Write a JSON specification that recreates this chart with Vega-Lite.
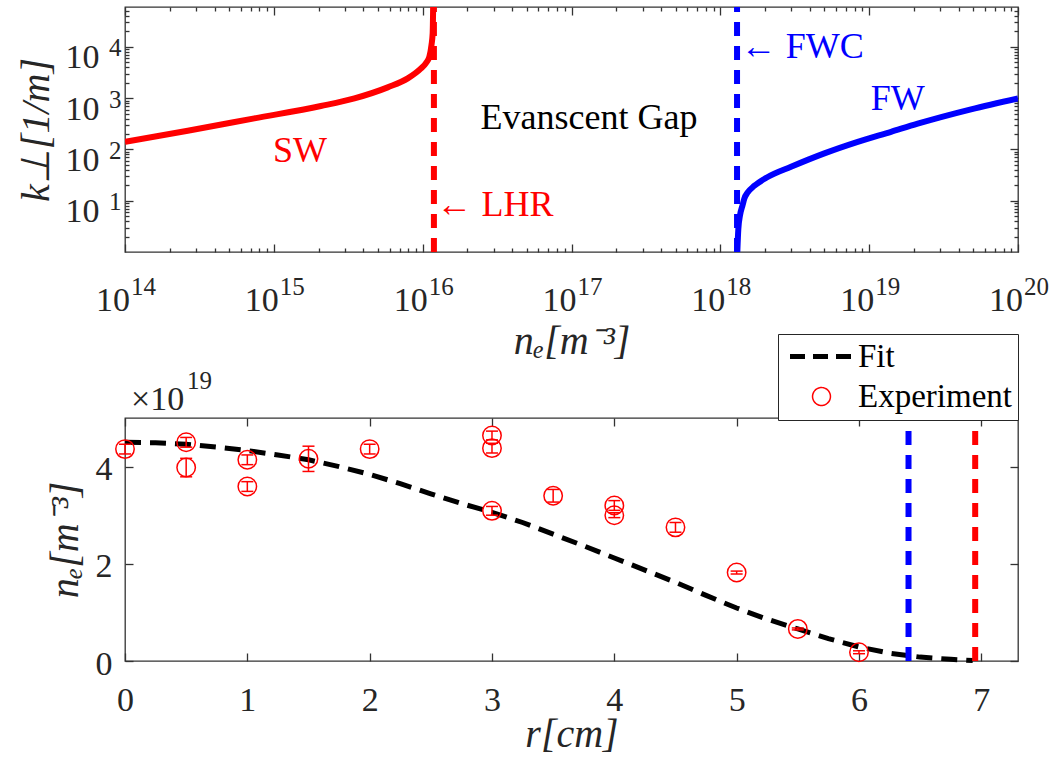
{
  "$schema": "https://vega.github.io/schema/vega-lite/v6.json",
  "background": "#ffffff",
  "padding": {"left": 15, "top": 3, "right": 5, "bottom": 2},
  "config": {
    "font": "Liberation Serif",
    "view": {"stroke": "#333333", "strokeWidth": 1.3},
    "axis": {"domain": false, "grid": false, "labelFlush": false, "labelOverlap": false, "tickColor": "#333333", "tickWidth": 1.3, "labelColor": "#262626", "titleColor": "#262626", "titleFontSize": 40, "titleFontStyle": "italic", "titleFontWeight": "normal", "labelFont": "Liberation Serif", "titleFont": "Liberation Serif"}
  },
  "resolve": {"scale": {"color": "independent"}},
  "datasets": {
    "curves": [
      {"wave": "SW", "n": 1e14, "k": 141},
      {"wave": "SW", "n": 2.64e14, "k": 232},
      {"wave": "SW", "n": 7.4e14, "k": 404},
      {"wave": "SW", "n": 2.07e15, "k": 702},
      {"wave": "SW", "n": 3.48e15, "k": 991},
      {"wave": "SW", "n": 5.82e15, "k": 1625},
      {"wave": "SW", "n": 7.94e15, "k": 2432},
      {"wave": "SW", "n": 9.75e15, "k": 3811},
      {"wave": "SW", "n": 1.052e16, "k": 4830},
      {"wave": "SW", "n": 1.109e16, "k": 6412},
      {"wave": "SW", "n": 1.146e16, "k": 10800},
      {"wave": "SW", "n": 1.167e16, "k": 18300},
      {"wave": "SW", "n": 1.178e16, "k": 80000},
      {"wave": "FW", "n": 1.3e18, "k": 1},
      {"wave": "FW", "n": 1.321e18, "k": 2.8},
      {"wave": "FW", "n": 1.356e18, "k": 5.2},
      {"wave": "FW", "n": 1.413e18, "k": 8.3},
      {"wave": "FW", "n": 1.449e18, "k": 11},
      {"wave": "FW", "n": 1.527e18, "k": 14.5},
      {"wave": "FW", "n": 1.691e18, "k": 19.5},
      {"wave": "FW", "n": 2.08e18, "k": 29},
      {"wave": "FW", "n": 2.985e18, "k": 46},
      {"wave": "FW", "n": 5.0e18, "k": 84},
      {"wave": "FW", "n": 8.38e18, "k": 141},
      {"wave": "FW", "n": 1.403e19, "k": 221},
      {"wave": "FW", "n": 2.118e19, "k": 318},
      {"wave": "FW", "n": 4.83e19, "k": 605},
      {"wave": "FW", "n": 1e20, "k": 991}
    ],
    "cutoffsTop": [
      {"wave": "SW", "name": "LHR", "n": 1.19e16},
      {"wave": "FW", "name": "FWC", "n": 1.295e18}
    ],
    "labelsTop": [
      {"wave": "SW", "kind": "branch", "label": "SW", "n": 1.5e15, "k": 92},
      {"wave": "FW", "kind": "branch", "label": "FW", "n": 1.556e19, "k": 952},
      {"wave": "gap", "kind": "gap", "label": "Evanscent Gap", "n": 1.31e17, "k": 419},
      {"wave": "SW", "kind": "LHR", "label": "← LHR", "n": 1.24e16, "k": 8.4},
      {"wave": "FW", "kind": "FWC", "label": "← FWC", "n": 1.37e18, "k": 9780}
    ],
    "fit": [
      {"series": "Fit", "r": 0, "v": 4.5},
      {"series": "Fit", "r": 0.25, "v": 4.49},
      {"series": "Fit", "r": 0.5, "v": 4.46},
      {"series": "Fit", "r": 0.75, "v": 4.4},
      {"series": "Fit", "r": 1.0, "v": 4.33},
      {"series": "Fit", "r": 1.25, "v": 4.24},
      {"series": "Fit", "r": 1.5, "v": 4.14},
      {"series": "Fit", "r": 1.75, "v": 4.0},
      {"series": "Fit", "r": 2.0, "v": 3.84},
      {"series": "Fit", "r": 2.25, "v": 3.65},
      {"series": "Fit", "r": 2.5, "v": 3.44},
      {"series": "Fit", "r": 2.75, "v": 3.24},
      {"series": "Fit", "r": 3.0, "v": 3.06},
      {"series": "Fit", "r": 3.25, "v": 2.85},
      {"series": "Fit", "r": 3.5, "v": 2.61},
      {"series": "Fit", "r": 3.75, "v": 2.37},
      {"series": "Fit", "r": 4.0, "v": 2.12},
      {"series": "Fit", "r": 4.25, "v": 1.87},
      {"series": "Fit", "r": 4.5, "v": 1.62},
      {"series": "Fit", "r": 4.75, "v": 1.35},
      {"series": "Fit", "r": 5.0, "v": 1.09},
      {"series": "Fit", "r": 5.25, "v": 0.86},
      {"series": "Fit", "r": 5.5, "v": 0.66},
      {"series": "Fit", "r": 5.75, "v": 0.46},
      {"series": "Fit", "r": 6.0, "v": 0.29},
      {"series": "Fit", "r": 6.25, "v": 0.16},
      {"series": "Fit", "r": 6.5, "v": 0.08},
      {"series": "Fit", "r": 6.75, "v": 0.035},
      {"series": "Fit", "r": 6.93, "v": 0.01}
    ],
    "exp": [
      {"series": "Experiment", "r": 0, "v": 4.36, "lo": 4.26, "hi": 4.46},
      {"series": "Experiment", "r": 0.5, "v": 4.5, "lo": 4.4, "hi": 4.6},
      {"series": "Experiment", "r": 0.5, "v": 3.98, "lo": 3.79, "hi": 4.17},
      {"series": "Experiment", "r": 1, "v": 4.14, "lo": 4.04, "hi": 4.24},
      {"series": "Experiment", "r": 1, "v": 3.59, "lo": 3.49, "hi": 3.69},
      {"series": "Experiment", "r": 1.5, "v": 4.16, "lo": 3.9, "hi": 4.42},
      {"series": "Experiment", "r": 2, "v": 4.36, "lo": 4.26, "hi": 4.46},
      {"series": "Experiment", "r": 3, "v": 4.64, "lo": 4.55, "hi": 4.73},
      {"series": "Experiment", "r": 3, "v": 4.38, "lo": 4.28, "hi": 4.48},
      {"series": "Experiment", "r": 3, "v": 3.09, "lo": 3.0, "hi": 3.18},
      {"series": "Experiment", "r": 3.5, "v": 3.4, "lo": 3.27, "hi": 3.53},
      {"series": "Experiment", "r": 4, "v": 3.2, "lo": 3.1, "hi": 3.3},
      {"series": "Experiment", "r": 4, "v": 3.0, "lo": 2.95, "hi": 3.05},
      {"series": "Experiment", "r": 4.5, "v": 2.75, "lo": 2.65, "hi": 2.85},
      {"series": "Experiment", "r": 5, "v": 1.82, "lo": 1.79, "hi": 1.85},
      {"series": "Experiment", "r": 5.5, "v": 0.66, "lo": 0.64, "hi": 0.68},
      {"series": "Experiment", "r": 6, "v": 0.18, "lo": 0.15, "hi": 0.21}
    ],
    "cutoffsBottom": [
      {"cutoff": "FWC", "r": 6.405},
      {"cutoff": "LHR", "r": 6.95}
    ],
    "multiplier": [
      {"r": 0, "v": 5, "base": "×10", "exp": "19"}
    ]
  },
  "spacing": 166,
  "bounds": "flush",
  "vconcat": [
    {
      "width": 893,
      "height": 245,
      "resolve": {"axis": {"x": "independent", "y": "independent"}},
      "layer": [
        {
          "data": {"name": "curves"},
          "mark": {"type": "line", "strokeWidth": 6, "clip": true, "interpolate": "monotone"},
          "encoding": {
            "x": {"field": "n", "type": "quantitative", "scale": {"type": "log", "domain": [1e14, 1e20], "nice": false},
              "axis": {"orient": "bottom", "values": [1e14, 1e15, 1e16, 1e17, 1e18, 1e19, 1e20], "labelExpr": "'10'", "tickSize": -8, "labelPadding": 39, "labelFontSize": 34, "labelOffset": -12.5, "title": "nₑ[m⁻³]", "titleY": 101, "titleBaseline": "alphabetic"}},
            "y": {"field": "k", "type": "quantitative", "scale": {"type": "log", "domain": [1, 60000], "nice": false},
              "axis": {"orient": "left", "values": [10, 100, 1000, 10000], "labelExpr": "'10'", "tickSize": -8, "labelPadding": 34, "labelFontSize": 34, "labelOffset": 11, "title": "k⊥[1/m]", "titleX": -77, "titleBaseline": "alphabetic"}},
            "color": {"field": "wave", "type": "nominal", "scale": {"domain": ["SW", "FW", "gap"], "range": ["#ff0000", "#0000ff", "#000000"]}, "legend": null}
          }
        },
        {
          "data": {"name": "cutoffsTop"},
          "mark": {"type": "rule", "strokeWidth": 6, "strokeDash": [14, 10]},
          "encoding": {
            "x": {"field": "n", "type": "quantitative", "scale": {"type": "log", "domain": [1e14, 1e20], "nice": false},
              "axis": {"orient": "top", "values": [1e14, 1e15, 1e16, 1e17, 1e18, 1e19, 1e20], "labels": false, "tickSize": -8, "title": null}},
            "y": {"datum": 1, "type": "quantitative", "scale": {"type": "log", "domain": [1, 60000], "nice": false}, "axis": null},
            "y2": {"datum": 60000},
            "color": {"field": "wave", "type": "nominal", "legend": null}
          }
        },
        {
          "data": {"name": "labelsTop"},
          "transform": [{"filter": "datum.kind === 'branch'"}],
          "mark": {"type": "text", "fontSize": 36, "align": "center", "baseline": "middle"},
          "encoding": {
            "x": {"field": "n", "type": "quantitative", "scale": {"type": "log", "domain": [1e14, 1e20], "nice": false},
              "axis": {"orient": "bottom", "values": [1e14, 1e15, 1e16, 1e17, 1e18, 1e19, 1e20], "labelExpr": "format(round(log(datum.value)/LN10), 'd')", "ticks": false, "labelPadding": 22, "labelFontSize": 25, "labelOffset": 18, "title": null}},
            "y": {"field": "k", "type": "quantitative", "scale": {"type": "log", "domain": [1, 60000], "nice": false},
              "axis": {"orient": "left", "values": [10, 100, 1000, 10000], "labelExpr": "format(round(log(datum.value)/LN10), 'd')", "ticks": false, "labelPadding": 4, "labelFontSize": 25, "labelOffset": 1, "title": null}},
            "text": {"field": "label"},
            "color": {"field": "wave", "type": "nominal", "legend": null}
          }
        },
        {
          "data": {"name": "labelsTop"},
          "transform": [{"filter": "datum.kind === 'gap'"}],
          "mark": {"type": "text", "fontSize": 36, "align": "center", "baseline": "middle"},
          "encoding": {
            "x": {"field": "n", "type": "quantitative", "scale": {"type": "log", "domain": [1e14, 1e20], "nice": false},
              "axis": {"orient": "bottom", "values": [2e14, 3e14, 4e14, 5e14, 6e14, 7e14, 8e14, 9e14, 2e15, 3e15, 4e15, 5e15, 6e15, 7e15, 8e15, 9e15, 2e16, 3e16, 4e16, 5e16, 6e16, 7e16, 8e16, 9e16, 2e17, 3e17, 4e17, 5e17, 6e17, 7e17, 8e17, 9e17, 2e18, 3e18, 4e18, 5e18, 6e18, 7e18, 8e18, 9e18, 2e19, 3e19, 4e19, 5e19, 6e19, 7e19, 8e19, 9e19], "labels": false, "tickSize": -4, "title": null}},
            "y": {"field": "k", "type": "quantitative", "scale": {"type": "log", "domain": [1, 60000], "nice": false},
              "axis": {"orient": "left", "values": [2, 3, 4, 5, 6, 7, 8, 9, 20, 30, 40, 50, 60, 70, 80, 90, 200, 300, 400, 500, 600, 700, 800, 900, 2000, 3000, 4000, 5000, 6000, 7000, 8000, 9000, 20000, 30000, 40000, 50000], "labels": false, "tickSize": -4, "title": null}},
            "text": {"field": "label"},
            "color": {"field": "wave", "type": "nominal", "legend": null}
          }
        },
        {
          "data": {"name": "labelsTop"},
          "transform": [{"filter": "datum.kind === 'LHR'"}],
          "mark": {"type": "text", "fontSize": 36, "align": "left", "baseline": "middle"},
          "encoding": {
            "x": {"field": "n", "type": "quantitative", "scale": {"type": "log", "domain": [1e14, 1e20], "nice": false},
              "axis": {"orient": "top", "values": [2e14, 3e14, 4e14, 5e14, 6e14, 7e14, 8e14, 9e14, 2e15, 3e15, 4e15, 5e15, 6e15, 7e15, 8e15, 9e15, 2e16, 3e16, 4e16, 5e16, 6e16, 7e16, 8e16, 9e16, 2e17, 3e17, 4e17, 5e17, 6e17, 7e17, 8e17, 9e17, 2e18, 3e18, 4e18, 5e18, 6e18, 7e18, 8e18, 9e18, 2e19, 3e19, 4e19, 5e19, 6e19, 7e19, 8e19, 9e19], "labels": false, "tickSize": -4, "title": null}},
            "y": {"field": "k", "type": "quantitative", "scale": {"type": "log", "domain": [1, 60000], "nice": false},
              "axis": {"orient": "right", "values": [10, 100, 1000, 10000], "labels": false, "tickSize": -8, "title": null}},
            "text": {"field": "label"},
            "color": {"field": "wave", "type": "nominal", "legend": null}
          }
        },
        {
          "data": {"name": "labelsTop"},
          "transform": [{"filter": "datum.kind === 'FWC'"}],
          "mark": {"type": "text", "fontSize": 36, "align": "left", "baseline": "middle"},
          "encoding": {
            "x": {"field": "n", "type": "quantitative", "scale": {"type": "log", "domain": [1e14, 1e20], "nice": false}, "axis": null},
            "y": {"field": "k", "type": "quantitative", "scale": {"type": "log", "domain": [1, 60000], "nice": false},
              "axis": {"orient": "right", "values": [2, 3, 4, 5, 6, 7, 8, 9, 20, 30, 40, 50, 60, 70, 80, 90, 200, 300, 400, 500, 600, 700, 800, 900, 2000, 3000, 4000, 5000, 6000, 7000, 8000, 9000, 20000, 30000, 40000, 50000], "labels": false, "tickSize": -4, "title": null}},
            "text": {"field": "label"},
            "color": {"field": "wave", "type": "nominal", "legend": null}
          }
        }
      ]
    },
    {
      "width": 893,
      "height": 243,
      "resolve": {"axis": {"x": "independent", "y": "independent"}},
      "layer": [
        {
          "data": {"name": "fit"},
          "mark": {"type": "line", "strokeWidth": 5, "strokeDash": [16, 9]},
          "encoding": {
            "x": {"field": "r", "type": "quantitative", "scale": {"domain": [0, 7.3], "nice": false, "zero": false},
              "axis": {"orient": "bottom", "values": [0, 1, 2, 3, 4, 5, 6, 7], "tickSize": -8, "labelPadding": 30, "labelFontSize": 34, "title": "r[cm]", "titleY": 85, "titleBaseline": "alphabetic"}},
            "y": {"field": "v", "type": "quantitative", "scale": {"domain": [0, 5], "nice": false, "zero": false},
              "axis": {"orient": "left", "values": [0, 2, 4], "tickSize": -8, "labelPadding": 21, "labelFontSize": 34, "labelOffset": 3, "title": "nₑ[m⁻³]", "titleX": -48, "titleBaseline": "alphabetic"}},
            "color": {"field": "series", "type": "nominal", "scale": {"domain": ["Fit", "Experiment"], "range": ["#000000", "#ff0000"]},
              "legend": {"orient": "none", "legendX": 653, "legendY": -84, "title": null, "padding": 6, "rowPadding": 6, "symbolOffset": 21, "labelOffset": 20, "labelFontSize": 33, "labelFont": "Liberation Serif", "labelColor": "#000000", "strokeColor": "#262626", "fillColor": "#ffffff",
                "encode": {"symbols": {"update": {
                  "shape": {"signal": "datum.value === 'Fit' ? 'M-3,0H3' : 'circle'"},
                  "size": {"signal": "datum.value === 'Fit' ? 441 : 320"},
                  "strokeWidth": {"signal": "datum.value === 'Fit' ? 5 : 1.5"},
                  "strokeDash": {"signal": "datum.value === 'Fit' ? [15, 8] : [1, 0]"},
                  "stroke": {"signal": "datum.value === 'Fit' ? '#000000' : '#ff0000'"},
                  "fill": {"value": "transparent"},
                  "opacity": {"value": 1}
                }}}}}
          }
        },
        {
          "data": {"name": "exp"},
          "mark": {"type": "rule", "strokeWidth": 1.5, "color": "#ff0000"},
          "encoding": {
            "x": {"field": "r", "type": "quantitative", "scale": {"domain": [0, 7.3], "nice": false, "zero": false},
              "axis": {"orient": "top", "values": [0, 1, 2, 3, 4, 5, 6, 7], "labels": false, "tickSize": -8, "title": null}},
            "y": {"field": "lo", "type": "quantitative", "scale": {"domain": [0, 5], "nice": false, "zero": false},
              "axis": {"orient": "right", "values": [0, 2, 4], "labels": false, "tickSize": -8, "title": null}},
            "y2": {"field": "hi"}
          }
        },
        {
          "data": {"name": "exp"},
          "mark": {"type": "tick", "orient": "horizontal", "size": 12, "thickness": 1.5, "color": "#ff0000", "opacity": 1},
          "encoding": {
            "x": {"field": "r", "type": "quantitative", "axis": null},
            "y": {"field": "lo", "type": "quantitative", "axis": null}
          }
        },
        {
          "data": {"name": "exp"},
          "mark": {"type": "tick", "orient": "horizontal", "size": 12, "thickness": 1.5, "color": "#ff0000", "opacity": 1},
          "encoding": {
            "x": {"field": "r", "type": "quantitative", "axis": null},
            "y": {"field": "hi", "type": "quantitative", "axis": null}
          }
        },
        {
          "data": {"name": "exp"},
          "mark": {"type": "point", "shape": "circle", "filled": false, "size": 340, "strokeWidth": 1.5, "opacity": 1},
          "encoding": {
            "x": {"field": "r", "type": "quantitative", "axis": null},
            "y": {"field": "v", "type": "quantitative", "axis": null},
            "color": {"field": "series", "type": "nominal"}
          }
        },
        {
          "data": {"name": "cutoffsBottom"},
          "mark": {"type": "rule", "strokeWidth": 6, "strokeDash": [14, 10]},
          "encoding": {
            "x": {"field": "r", "type": "quantitative", "axis": null},
            "y": {"datum": 0, "type": "quantitative", "axis": null},
            "y2": {"datum": 5},
            "stroke": {"field": "cutoff", "type": "nominal", "scale": {"domain": ["FWC", "LHR"], "range": ["#0000ff", "#ff0000"]}, "legend": null}
          }
        },
        {
          "data": {"name": "multiplier"},
          "mark": {"type": "text", "fontSize": 34, "align": "left", "baseline": "alphabetic", "dx": 6, "dy": -8, "color": "#262626"},
          "encoding": {
            "x": {"field": "r", "type": "quantitative", "axis": null},
            "y": {"field": "v", "type": "quantitative", "axis": null},
            "text": {"field": "base"}
          }
        },
        {
          "data": {"name": "multiplier"},
          "mark": {"type": "text", "fontSize": 25, "align": "left", "baseline": "alphabetic", "dx": 62, "dy": -29, "color": "#262626"},
          "encoding": {
            "x": {"field": "r", "type": "quantitative", "axis": null},
            "y": {"field": "v", "type": "quantitative", "axis": null},
            "text": {"field": "exp"}
          }
        }
      ]
    }
  ]
}
